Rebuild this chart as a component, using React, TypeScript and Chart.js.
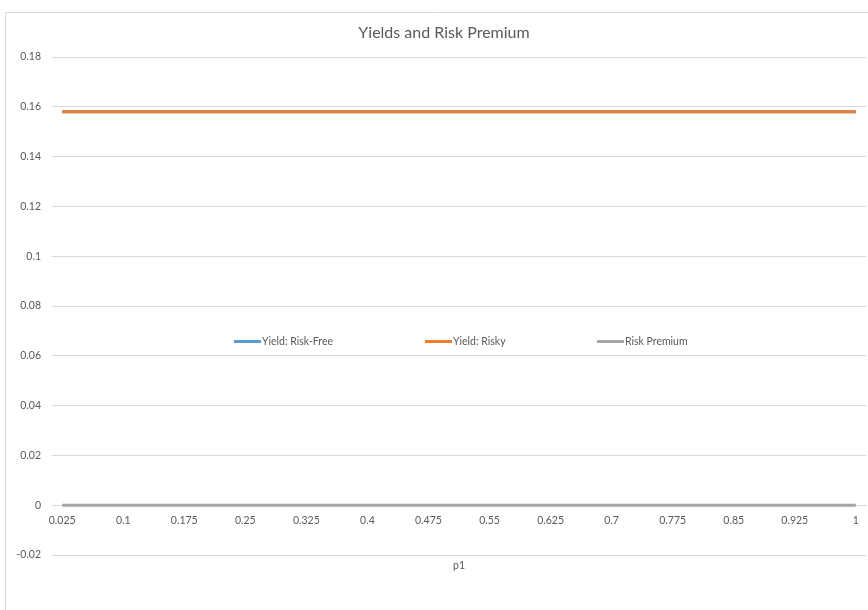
import React, { useEffect, useRef } from "react";
import { Chart, registerables } from "chart.js";

Chart.register(...registerables);

const categories = [
  "0.025", "0.05", "0.075", "0.1", "0.125", "0.15", "0.175", "0.2", "0.225", "0.25",
  "0.275", "0.3", "0.325", "0.35", "0.375", "0.4", "0.425", "0.45", "0.475", "0.5",
  "0.525", "0.55", "0.575", "0.6", "0.625", "0.65", "0.675", "0.7", "0.725", "0.75",
  "0.775", "0.8", "0.825", "0.85", "0.875", "0.9", "0.925", "0.95", "0.975", "1",
];

const yieldRiskFree = [
  0.158, 0.158, 0.158, 0.158, 0.158, 0.158, 0.158, 0.158, 0.158, 0.158,
  0.158, 0.158, 0.158, 0.158, 0.158, 0.158, 0.158, 0.158, 0.158, 0.158,
  0.158, 0.158, 0.158, 0.158, 0.158, 0.158, 0.158, 0.158, 0.158, 0.158,
  0.158, 0.158, 0.158, 0.158, 0.158, 0.158, 0.158, 0.158, 0.158, 0.158,
];

const yieldRisky = [
  0.158, 0.158, 0.158, 0.158, 0.158, 0.158, 0.158, 0.158, 0.158, 0.158,
  0.158, 0.158, 0.158, 0.158, 0.158, 0.158, 0.158, 0.158, 0.158, 0.158,
  0.158, 0.158, 0.158, 0.158, 0.158, 0.158, 0.158, 0.158, 0.158, 0.158,
  0.158, 0.158, 0.158, 0.158, 0.158, 0.158, 0.158, 0.158, 0.158, 0.158,
];

const riskPremium = [
  0, 0, 0, 0, 0, 0, 0, 0, 0, 0,
  0, 0, 0, 0, 0, 0, 0, 0, 0, 0,
  0, 0, 0, 0, 0, 0, 0, 0, 0, 0,
  0, 0, 0, 0, 0, 0, 0, 0, 0, 0,
];

const seriesNames = ["Yield: Risk-Free", "Yield: Risky", "Risk Premium"];
const seriesColors = ["#5B9BD5", "#ED7D31", "#A5A5A5"];

const chartTitle = "Yields and Risk Premium";
const xAxisTitle = "p1";

const FONT = "Lato, 'Open Sans', sans-serif";
const TEXT = "#595959";
const SMALL = 10.5;

const decorPlugin = {
  id: "decor",
  beforeDraw(chart: any) {
    const ctx = chart.ctx;
    ctx.save();
    ctx.strokeStyle = "#D9D9D9";
    ctx.lineWidth = 1;
    ctx.beginPath();
    ctx.moveTo(5.5, chart.height + 5);
    ctx.lineTo(5.5, 12.5);
    ctx.lineTo(chart.width + 5, 12.5);
    ctx.stroke();
    ctx.restore();
  },
  afterDraw(chart: any) {
    const ctx = chart.ctx;
    const area = chart.chartArea;
    ctx.save();
    // title
    ctx.fillStyle = TEXT;
    ctx.font = `16px ${FONT}`;
    ctx.textAlign = "center";
    ctx.textBaseline = "middle";
    ctx.fillText(chartTitle, 444, 33);
    // x axis title
    ctx.font = `${SMALL}px ${FONT}`;
    ctx.fillText(xAxisTitle, (area.left + area.right) / 2, 566);
    // legend
    const legendX = [234, 425, 597];
    const legendY = 341;
    ctx.textAlign = "left";
    chart.data.datasets.forEach((ds: any, i: number) => {
      const x = legendX[i];
      ctx.strokeStyle = ds.borderColor;
      ctx.lineWidth = 3;
      ctx.beginPath();
      ctx.moveTo(x, legendY + 0.5);
      ctx.lineTo(x + 27, legendY + 0.5);
      ctx.stroke();
      ctx.fillStyle = TEXT;
      ctx.fillText(ds.label, x + 28, legendY + 0.5);
    });
    ctx.restore();
  },
};

export default function App() {
  const ref = useRef<HTMLCanvasElement | null>(null);

  useEffect(() => {
    document.body.style.margin = "0";
    if (!ref.current) return;
    const chart = new Chart(ref.current, {
      type: "line",
      data: {
        labels: categories,
        datasets: [
          { label: seriesNames[0], data: yieldRiskFree, borderColor: seriesColors[0], backgroundColor: seriesColors[0], order: 3 },
          { label: seriesNames[1], data: yieldRisky, borderColor: seriesColors[1], backgroundColor: seriesColors[1], order: 2 },
          { label: seriesNames[2], data: riskPremium, borderColor: seriesColors[2], backgroundColor: seriesColors[2], order: 1 },
        ].map((d) => ({ ...d, borderWidth: 3, pointRadius: 0, tension: 0, fill: false })),
      },
      options: {
        animation: false,
        responsive: false,
        maintainAspectRatio: false,
        layout: { padding: { top: 57, right: 2, bottom: 55, left: 0 } },
        plugins: {
          legend: { display: false },
          title: { display: false },
          tooltip: { enabled: false },
        },
        scales: {
          x: {
            type: "category",
            position: { y: 0 } as any,
            offset: true,
            grid: { display: false, drawTicks: false },
            border: { display: true, color: "#D9D9D9", width: 1 },
            ticks: {
              autoSkip: false,
              maxRotation: 0,
              minRotation: 0,
              padding: 9,
              color: TEXT,
              font: { family: FONT, size: SMALL },
              callback: (_v: any, i: number) => (i % 3 === 0 ? categories[i] : null),
            },
          },
          y: {
            min: -0.02,
            max: 0.18,
            afterFit: (scale: any) => {
              scale.width = 52;
            },
            grid: { color: "#D9D9D9", drawTicks: false },
            border: { display: false },
            ticks: {
              stepSize: 0.02,
              padding: 11,
              color: TEXT,
              font: { family: FONT, size: SMALL },
              callback: (v: any) => String(parseFloat(Number(v).toFixed(2))),
            },
          },
        },
      },
      plugins: [decorPlugin],
    });
    return () => chart.destroy();
  }, []);

  return (
    <div style={{ width: 868, height: 610 }}>
      <canvas ref={ref} width={868} height={610} style={{ display: "block" }} />
    </div>
  );
}
